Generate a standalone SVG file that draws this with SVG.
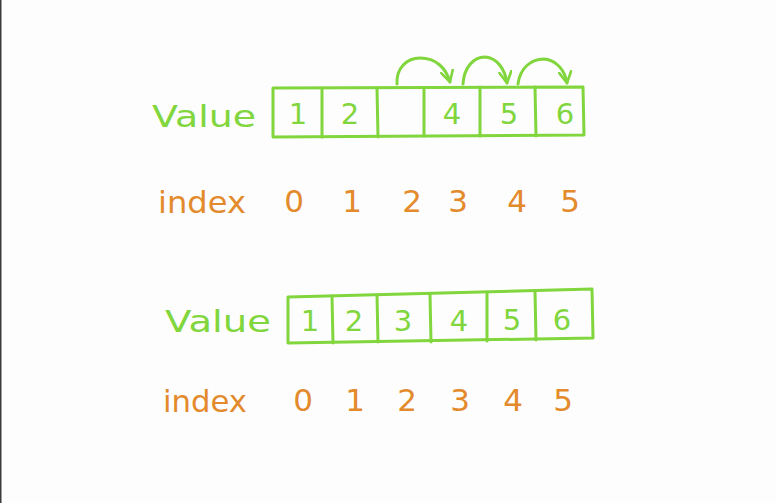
<svg xmlns="http://www.w3.org/2000/svg" width="776" height="503" viewBox="0 0 776 503">
<style>
.g{fill:none;stroke:#80d63c;stroke-width:3;stroke-linecap:round;stroke-linejoin:round}
.gt{fill:#80d63c;font-family:"DejaVu Sans","Liberation Sans",sans-serif}
.ot{fill:#e38a2c;font-family:"DejaVu Sans","Liberation Sans",sans-serif}
.lbl{font-size:31px}
.num{font-size:29px;text-anchor:middle}
.idx{font-size:31px;text-anchor:middle}
</style>
<defs>
<marker id="ah" viewBox="0 0 14 14" refX="12" refY="7" markerWidth="14" markerHeight="14" markerUnits="userSpaceOnUse" orient="auto">
<path d="M1,1 L12,7 L1,13" fill="none" stroke="#80d63c" stroke-width="2.6" stroke-linecap="round" stroke-linejoin="round"/>
</marker>
</defs>
<rect width="776" height="503" fill="#fdfdfd"/>
<rect x="0" y="0" width="1.5" height="503" fill="#3c3c3c"/>

<g id="array1">
<path class="g" d="M273,88 L583,87 L584,135 L273,137 Z"/>
<path class="g" d="M322,88 L322,137 M377,88 L378,137 M424,88 L424,136 M480,87 L480,136 M535,87 L536,136"/>
<text class="gt lbl" x="152" y="127" textLength="104" lengthAdjust="spacingAndGlyphs">Value</text>
<text class="gt num" x="298" y="124">1</text>
<text class="gt num" x="350" y="124">2</text>
<text class="gt num" x="452" y="124">4</text>
<text class="gt num" x="509" y="124">5</text>
<text class="gt num" x="565" y="124">6</text>
</g>

<g id="index1">
<text class="ot lbl" x="158" y="213" textLength="88" lengthAdjust="spacingAndGlyphs">index</text>
<text class="ot idx" x="294" y="212">0</text>
<text class="ot idx" x="352" y="212">1</text>
<text class="ot idx" x="412" y="212">2</text>
<text class="ot idx" x="458" y="212">3</text>
<text class="ot idx" x="517" y="212">4</text>
<text class="ot idx" x="570" y="212">5</text>
</g>

<g id="connectors">
<path class="g" d="M397,84 C396,68 407,58 420,58 C436,58 446,68 450,82" marker-end="url(#ah)"/>
<path class="g" d="M463,84 C464,68 473,57 485,57 C498,58 505,70 507,83" marker-end="url(#ah)"/>
<path class="g" d="M518,84 C520,68 531,59 544,59 C557,60 565,71 567,83" marker-end="url(#ah)"/>
</g>

<g id="array2">
<path class="g" d="M288,297 L592,289 L593,338 L288,343 Z"/>
<path class="g" d="M332,296 L333,343 M377,295 L378,342 M430,294 L431,342 M487,292 L487,341 M535,291 L536,340"/>
<text class="gt lbl" x="165" y="332" textLength="106" lengthAdjust="spacingAndGlyphs">Value</text>
<text class="gt num" x="310" y="331">1</text>
<text class="gt num" x="354" y="331">2</text>
<text class="gt num" x="403" y="331">3</text>
<text class="gt num" x="459" y="331">4</text>
<text class="gt num" x="512" y="330">5</text>
<text class="gt num" x="562" y="330">6</text>
</g>

<g id="index2">
<text class="ot lbl" x="163" y="412" textLength="84" lengthAdjust="spacingAndGlyphs">index</text>
<text class="ot idx" x="303" y="411">0</text>
<text class="ot idx" x="355" y="411">1</text>
<text class="ot idx" x="407" y="411">2</text>
<text class="ot idx" x="460" y="411">3</text>
<text class="ot idx" x="513" y="411">4</text>
<text class="ot idx" x="563" y="411">5</text>
</g>
</svg>
